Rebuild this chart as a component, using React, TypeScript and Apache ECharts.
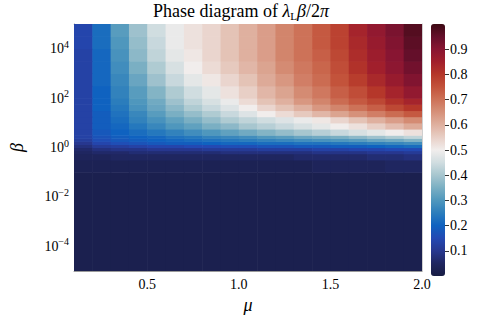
import React, { useEffect, useRef } from "react";
import * as echarts from "echarts";

// μ cell centres (cells 0.1 wide, covering 0.1 … 2.0)
const MU_CENTERS = [0.15, 0.25, 0.35, 0.45, 0.55, 0.65, 0.75, 0.85, 0.95, 1.05, 1.15, 1.25, 1.35, 1.45, 1.55, 1.65, 1.75, 1.85, 1.95];
const MU_MIN = 0.1;
const MU_MAX = 2.0;
// log10(β) row edges, bottom to top
const LOG_BETA_EDGES = [-5, -1, -0.5, -0.25, -0.125, 0, 0.125, 0.25, 0.375, 0.5, 0.75, 1, 1.25, 1.5, 1.75, 2, 2.5, 3, 3.5, 4, 4.5, 5];
// λ_L β / 2π, one row per β band (bottom to top), one value per μ cell
const VALUES = [
  [0.02, 0.02, 0.02, 0.02, 0.02, 0.02, 0.02, 0.02, 0.02, 0.02, 0.02, 0.02, 0.02, 0.02, 0.02, 0.02, 0.02, 0.02, 0.02],
  [0.03, 0.03, 0.03, 0.03, 0.03, 0.03, 0.03, 0.03, 0.03, 0.03, 0.03, 0.03, 0.03, 0.04, 0.04, 0.04, 0.04, 0.05, 0.05],
  [0.04, 0.04, 0.05, 0.05, 0.05, 0.05, 0.05, 0.05, 0.05, 0.05, 0.05, 0.05, 0.06, 0.06, 0.06, 0.06, 0.07, 0.07, 0.08],
  [0.05, 0.06, 0.06, 0.07, 0.07, 0.07, 0.07, 0.07, 0.08, 0.08, 0.08, 0.08, 0.08, 0.09, 0.09, 0.09, 0.10, 0.10, 0.11],
  [0.06, 0.08, 0.09, 0.09, 0.10, 0.10, 0.10, 0.11, 0.11, 0.11, 0.12, 0.12, 0.12, 0.13, 0.13, 0.14, 0.14, 0.15, 0.15],
  [0.08, 0.11, 0.12, 0.13, 0.14, 0.14, 0.15, 0.15, 0.16, 0.16, 0.17, 0.17, 0.18, 0.18, 0.19, 0.19, 0.20, 0.21, 0.22],
  [0.10, 0.14, 0.16, 0.17, 0.18, 0.19, 0.19, 0.20, 0.21, 0.21, 0.22, 0.22, 0.23, 0.23, 0.24, 0.25, 0.26, 0.27, 0.28],
  [0.12, 0.16, 0.18, 0.19, 0.20, 0.21, 0.22, 0.23, 0.24, 0.25, 0.26, 0.27, 0.28, 0.29, 0.30, 0.31, 0.33, 0.34, 0.36],
  [0.13, 0.17, 0.19, 0.20, 0.21, 0.23, 0.24, 0.26, 0.27, 0.28, 0.30, 0.31, 0.33, 0.34, 0.35, 0.37, 0.39, 0.41, 0.43],
  [0.13, 0.18, 0.20, 0.22, 0.24, 0.26, 0.28, 0.30, 0.32, 0.34, 0.36, 0.38, 0.40, 0.42, 0.44, 0.46, 0.48, 0.50, 0.52],
  [0.13, 0.19, 0.21, 0.24, 0.27, 0.30, 0.32, 0.35, 0.37, 0.40, 0.42, 0.44, 0.46, 0.48, 0.50, 0.52, 0.55, 0.58, 0.61],
  [0.13, 0.19, 0.22, 0.26, 0.29, 0.32, 0.35, 0.38, 0.41, 0.43, 0.45, 0.47, 0.49, 0.51, 0.54, 0.57, 0.60, 0.63, 0.66],
  [0.13, 0.19, 0.23, 0.27, 0.31, 0.35, 0.38, 0.41, 0.44, 0.47, 0.50, 0.53, 0.56, 0.59, 0.62, 0.65, 0.68, 0.71, 0.74],
  [0.13, 0.20, 0.24, 0.29, 0.33, 0.37, 0.41, 0.44, 0.47, 0.50, 0.54, 0.57, 0.60, 0.64, 0.67, 0.70, 0.73, 0.77, 0.80],
  [0.13, 0.20, 0.25, 0.30, 0.34, 0.39, 0.43, 0.46, 0.49, 0.53, 0.57, 0.60, 0.64, 0.67, 0.71, 0.74, 0.77, 0.81, 0.84],
  [0.13, 0.20, 0.26, 0.31, 0.36, 0.41, 0.45, 0.48, 0.52, 0.55, 0.59, 0.62, 0.66, 0.69, 0.73, 0.76, 0.80, 0.84, 0.88],
  [0.13, 0.21, 0.27, 0.33, 0.39, 0.44, 0.48, 0.51, 0.54, 0.57, 0.61, 0.64, 0.68, 0.71, 0.75, 0.79, 0.83, 0.87, 0.91],
  [0.13, 0.21, 0.28, 0.35, 0.41, 0.46, 0.50, 0.53, 0.56, 0.59, 0.62, 0.66, 0.69, 0.72, 0.76, 0.81, 0.85, 0.89, 0.93],
  [0.13, 0.21, 0.29, 0.37, 0.43, 0.48, 0.51, 0.54, 0.57, 0.60, 0.63, 0.67, 0.70, 0.73, 0.77, 0.82, 0.86, 0.90, 0.95],
  [0.14, 0.22, 0.30, 0.38, 0.44, 0.49, 0.52, 0.54, 0.57, 0.60, 0.63, 0.67, 0.70, 0.74, 0.78, 0.83, 0.87, 0.91, 0.96],
  [0.14, 0.22, 0.31, 0.39, 0.45, 0.49, 0.52, 0.54, 0.57, 0.60, 0.63, 0.67, 0.70, 0.74, 0.78, 0.84, 0.88, 0.92, 0.97],
];
const X_TICKS = [0.5, 1.0, 1.5, 2.0];
const Y_TICKS = [1e-4, 1e-2, 1, 1e2, 1e4];
const CBAR_TICKS = [0.1, 0.2, 0.3, 0.4, 0.5, 0.6, 0.7, 0.8, 0.9];
const CBAR_MIN = 0;
const CBAR_MAX = 1;
// balance-like colour map, evenly spaced stops from 0 to 1
const COLORS = [
  "#181c43", "#1f2660", "#27378f", "#2349b3", "#0f62c0", "#2b7dbc", "#4f97bd",
  "#7aafc3", "#a7c6cf", "#d0dde0", "#f1edec", "#e8cfc6", "#dfb09f", "#d6917a",
  "#cd7258", "#c3533b", "#b5372a", "#a11f2c", "#881532", "#640f2a", "#3c0912",
];

const FONT = "'Liberation Serif', 'DejaVu Serif', serif";

export default function App() {
  const ref = useRef<HTMLDivElement>(null);
  useEffect(() => {
    if (!ref.current) return;
    const chart = echarts.init(ref.current, null, { renderer: "svg" });

    const muLo = MU_CENTERS.map((c, i) => (i === 0 ? MU_MIN : (MU_CENTERS[i - 1] + c) / 2));
    const muHi = MU_CENTERS.map((c, i) => (i === MU_CENTERS.length - 1 ? MU_MAX : (MU_CENTERS[i + 1] + c) / 2));

    const data: number[][] = [];
    VALUES.forEach((row, r) => {
      row.forEach((v, c) => {
        const mid = (LOG_BETA_EDGES[r] + LOG_BETA_EDGES[r + 1]) / 2;
        data.push([MU_CENTERS[c], Math.pow(10, mid), v, c, r]);
      });
    });

    const expLabel = (v: number) => {
      const e = Math.round(Math.log10(v));
      const s = e < 0 ? "\u2212" + -e : String(e);
      return "{b|10}{e|" + s + "}";
    };

    const option: any = {
      animation: false,
      backgroundColor: "#ffffff",
      graphic: [
        {
          type: "text",
          x: 241,
          y: 11,
          style: {
            text: "{n|Phase diagram of }{i|λ}{s|L}{i|β}{n|/2}{i|π}",
            align: "center",
            verticalAlign: "middle",
            fill: "#000",
            rich: {
              n: { fontFamily: FONT, fontSize: 18, fill: "#000" },
              i: { fontFamily: FONT, fontSize: 18, fontStyle: "italic", fill: "#000" },
              s: { fontFamily: FONT, fontSize: 11, fill: "#000", padding: [9, 0, 0, 0] },
            },
          },
        },
      ],
      grid: [
        { left: 61, top: 24, width: 361, height: 252, containLabel: false },
        { left: 431, top: 24, width: 14, height: 252, containLabel: false },
      ],
      xAxis: [
        {
          gridIndex: 0,
          type: "value",
          min: MU_MIN,
          max: MU_MAX,
          position: "bottom",
          name: "μ",
          nameLocation: "middle",
          nameGap: 25,
          nameTextStyle: { fontFamily: FONT, fontSize: 18, fontStyle: "italic", color: "#000" },
          axisLine: { show: true, onZero: false, lineStyle: { color: "#9a9a9a", width: 1 } },
          axisTick: { show: false },
          splitLine: { show: false },
          axisLabel: {
            customValues: X_TICKS,
            formatter: (v: number) => v.toFixed(1),
            fontFamily: FONT,
            fontSize: 14,
            color: "#000",
            margin: 6,
          },
        },
        {
          gridIndex: 0,
          type: "value",
          min: MU_MIN,
          max: MU_MAX,
          position: "top",
          axisLine: { show: true, onZero: false, lineStyle: { color: "#cfcfcf", width: 1 } },
          axisTick: { show: false },
          axisLabel: { show: false },
          splitLine: { show: false },
        },
        { gridIndex: 1, type: "value", min: 0, max: 1, show: false },
      ],
      yAxis: [
        {
          gridIndex: 0,
          type: "log",
          logBase: 10,
          min: 1e-5,
          max: 1e5,
          position: "left",
          name: "β",
          nameLocation: "middle",
          nameGap: 48,
          nameTextStyle: { fontFamily: FONT, fontSize: 18, fontStyle: "italic", color: "#000" },
          axisLine: { show: true, onZero: false, lineStyle: { color: "#9a9a9a", width: 1 } },
          axisTick: { show: false },
          splitLine: { show: false },
          axisLabel: {
            customValues: Y_TICKS,
            formatter: expLabel,
            margin: 5,
            rich: {
              b: { fontFamily: FONT, fontSize: 14, color: "#000" },
              e: { fontFamily: FONT, fontSize: 10, color: "#000", padding: [0, 0, 9, 0] },
            },
          },
        },
        {
          gridIndex: 0,
          type: "log",
          logBase: 10,
          min: 1e-5,
          max: 1e5,
          position: "right",
          axisLine: { show: true, onZero: false, lineStyle: { color: "#cfcfcf", width: 1 } },
          axisTick: { show: false },
          axisLabel: { show: false },
          splitLine: { show: false },
        },
        {
          gridIndex: 1,
          type: "value",
          min: CBAR_MIN,
          max: CBAR_MAX,
          position: "right",
          axisLine: { show: true, onZero: false, lineStyle: { color: "rgba(0,0,0,0)", width: 1 } },
          splitLine: { show: false },
          axisTick: {
            show: true,
            customValues: CBAR_TICKS,
            length: 4,
            inside: false,
            lineStyle: { color: "#333", width: 1 },
          },
          axisLabel: {
            customValues: CBAR_TICKS,
            formatter: (v: number) => v.toFixed(1),
            fontFamily: FONT,
            fontSize: 14,
            color: "#000",
            margin: 5,
          },
        },
      ],
      visualMap: {
        type: "continuous",
        min: CBAR_MIN,
        max: CBAR_MAX,
        dimension: 2,
        seriesIndex: 0,
        orient: "vertical",
        left: 431,
        top: 24,
        itemWidth: 14,
        itemHeight: 252,
        padding: 0,
        calculable: false,
        text: null,
        inRange: { color: COLORS },
      },
      series: [
        {
          type: "custom",
          xAxisIndex: 0,
          yAxisIndex: 0,
          clip: true,
          encode: { x: 0, y: 1 },
          data,
          renderItem: (params: any, api: any) => {
            const c = api.value(3);
            const r = api.value(4);
            const p0 = api.coord([muLo[c], Math.pow(10, LOG_BETA_EDGES[r])]);
            const p1 = api.coord([muHi[c], Math.pow(10, LOG_BETA_EDGES[r + 1])]);
            return {
              type: "rect",
              shape: {
                x: p0[0],
                y: p1[1],
                width: p1[0] - p0[0] + 0.6,
                height: p0[1] - p1[1] + 0.6,
              },
              style: { fill: api.visual("color") },
            };
          },
        },
      ],
    };
    chart.setOption(option);
    return () => chart.dispose();
  }, []);
  return (
    <div
      ref={ref}
      style={{ position: "fixed", left: 0, top: 0, width: 478, height: 319, background: "#fff" }}
    />
  );
}
